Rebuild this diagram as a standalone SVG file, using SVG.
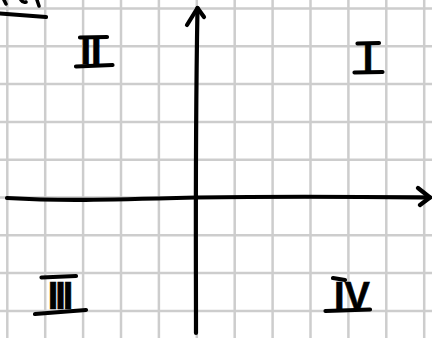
<svg xmlns="http://www.w3.org/2000/svg" width="432" height="338" viewBox="0 0 432 338">
  <style>
    .grid line { stroke: #cdcdcd; stroke-width: 2.5; }
    .ink { fill: none; stroke: #000; stroke-width: 4.2; stroke-linecap: round; stroke-linejoin: round; }
    .num { font-family: "Liberation Sans", Arial, sans-serif; font-size: 38px; font-weight: bold; fill: #000; stroke: #000; stroke-width: 0.6; text-anchor: middle; }
  </style>
  <rect width="432" height="338" fill="#ffffff"/>
  <g id="grid" class="grid">
    <line x1="7.3" y1="0" x2="7.3" y2="338"/>
    <line x1="45.2" y1="0" x2="45.2" y2="338"/>
    <line x1="83.1" y1="0" x2="83.1" y2="338"/>
    <line x1="121" y1="0" x2="121" y2="338"/>
    <line x1="158.9" y1="0" x2="158.9" y2="338"/>
    <line x1="196.8" y1="0" x2="196.8" y2="338"/>
    <line x1="234.7" y1="0" x2="234.7" y2="338"/>
    <line x1="272.6" y1="0" x2="272.6" y2="338"/>
    <line x1="310.5" y1="0" x2="310.5" y2="338"/>
    <line x1="348.4" y1="0" x2="348.4" y2="338"/>
    <line x1="386.3" y1="0" x2="386.3" y2="338"/>
    <line x1="424.2" y1="0" x2="424.2" y2="338"/>
    <line x1="0" y1="8.5" x2="432" y2="8.5"/>
    <line x1="0" y1="46.3" x2="432" y2="46.3"/>
    <line x1="0" y1="84.1" x2="432" y2="84.1"/>
    <line x1="0" y1="121.9" x2="432" y2="121.9"/>
    <line x1="0" y1="159.7" x2="432" y2="159.7"/>
    <line x1="0" y1="197.5" x2="432" y2="197.5"/>
    <line x1="0" y1="235.3" x2="432" y2="235.3"/>
    <line x1="0" y1="273.1" x2="432" y2="273.1"/>
    <line x1="0" y1="310.9" x2="432" y2="310.9"/>
  </g>
  <g id="corner-mark" class="ink">
    <path d="M0,13.5 L46,17"/>
    <path d="M4,0 L6,4" stroke-width="3.5"/>
    <path d="M21,0 Q23,3 26,2" stroke-width="3.5"/>
    <path d="M37,0 L39,6" stroke-width="3.5"/>
  </g>
  <g id="connectors" class="ink">
    <path id="y-axis" d="M196,333 C196,250 195,150 197.5,8"/>
    <path d="M187,25 L197.5,8 L204,17"/>
    <path id="x-axis" d="M7,198 C60,201 100,200 196,197.5 C300,196 380,197 430,197.5"/>
    <path d="M418,188 L430,197.5 L420,205"/>
  </g>
  <g id="quadrant-II">
    <path class="ink" d="M80,37.5 L107,37"/>
    <path class="ink" d="M76,66.5 L112.5,65"/>
    <text class="num" x="91" y="64">II</text>
  </g>
  <g id="quadrant-I">
    <path class="ink" d="M357.5,43.5 L379,43"/>
    <path class="ink" d="M354.5,72.5 L382.5,72"/>
    <text class="num" x="368" y="71">I</text>
  </g>
  <g id="quadrant-III">
    <path class="ink" d="M41.5,277.5 L76,276"/>
    <path class="ink" d="M35,314 L86,310"/>
    <text class="num" x="59" y="309" letter-spacing="-3">III</text>
  </g>
  <g id="quadrant-IV">
    <path class="ink" d="M325.5,311 L370,309.5"/>
    <path class="ink" d="M333,278 L345,280"/>
    <text class="num" x="352" y="309">IV</text>
  </g>
</svg>
